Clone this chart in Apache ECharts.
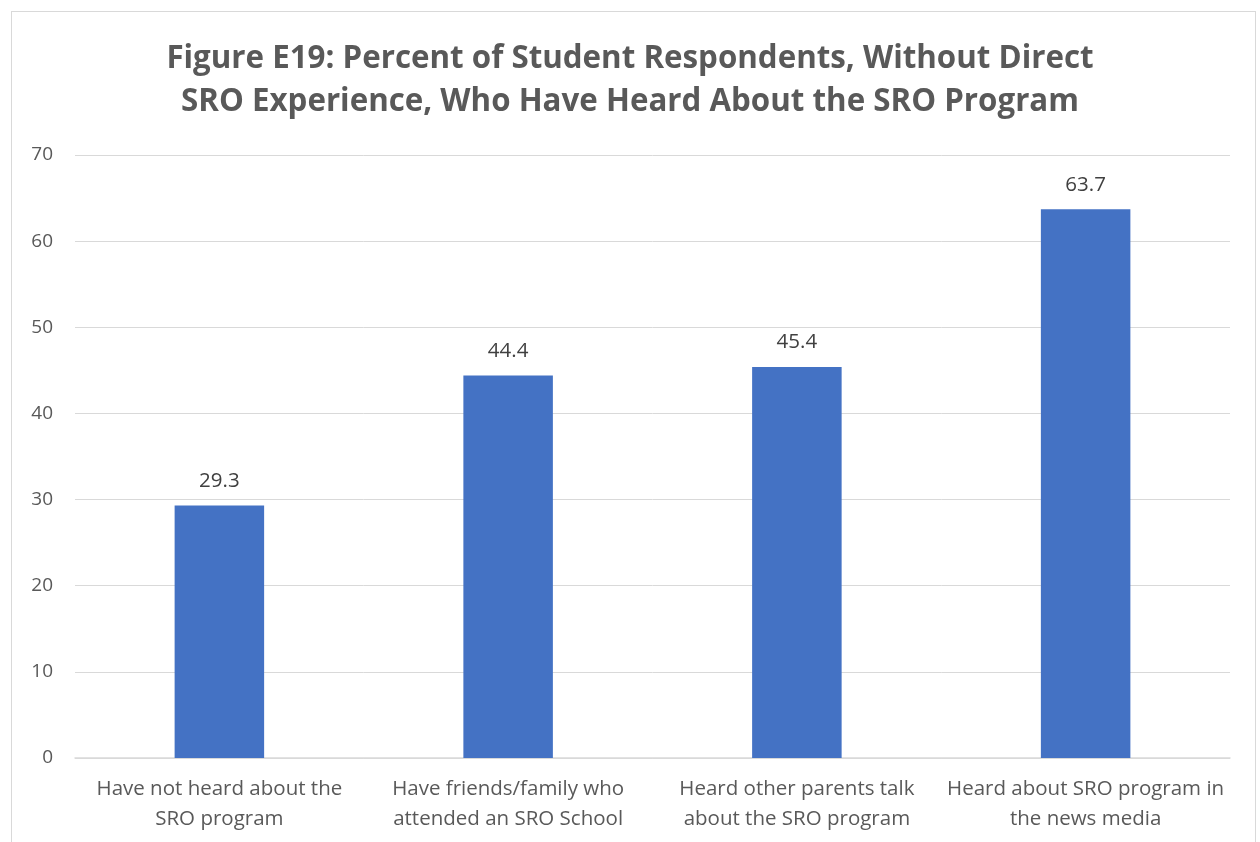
<!DOCTYPE html>
<html>
<head>
<meta charset="utf-8">
<script src="https://cdn.jsdelivr.net/npm/echarts@6/dist/echarts.min.js"></script>
<style>
html,body{margin:0;padding:0;background:#fff;}
#frame{position:absolute;left:11px;top:11px;width:1245px;height:900px;border:1px solid #d9d9d9;box-sizing:border-box;}
#chart{position:absolute;left:0;top:0;width:1260px;height:842px;}
</style>
</head>
<body>
<div id="frame"></div>
<div id="chart"></div>
<script>
const titleText = "Figure E19: Percent of Student Respondents, Without Direct\nSRO Experience, Who Have Heard About the SRO Program";
const categories = [
  "Have not heard about the\nSRO program",
  "Have friends/family who\nattended an SRO School",
  "Heard other parents talk\nabout the SRO program",
  "Heard about SRO program in\nthe news media"
];
const values = [29.3, 44.4, 45.4, 63.7];
const yTicks = {min: 0, max: 70, interval: 10};

const chart = echarts.init(document.getElementById('chart'), null, {renderer: 'canvas'});
chart.setOption({
  backgroundColor: 'transparent',
  animation: false,
  title: {
    text: titleText,
    left: 'center',
    top: 33,
    textStyle: {
      fontFamily: 'Open Sans, sans-serif',
      fontWeight: 'bold',
      fontSize: 31.3,
      lineHeight: 43,
      color: '#595959'
    }
  },
  grid: {left: 75, right: 30, top: 155, bottom: 84, containLabel: false},
  xAxis: {
    type: 'category',
    data: categories,
    axisLine: {lineStyle: {color: '#d9d9d9', width: 1.5}},
    axisTick: {show: false},
    axisLabel: {
      fontFamily: 'Open Sans, sans-serif',
      fontSize: 20.5,
      lineHeight: 30,
      color: '#595959',
      margin: 16,
      interval: 0
    }
  },
  yAxis: {
    type: 'value',
    min: yTicks.min,
    max: yTicks.max,
    interval: yTicks.interval,
    axisLine: {show: false},
    axisTick: {show: false},
    splitLine: {lineStyle: {color: '#d9d9d9', width: 1}},
    axisLabel: {
      fontFamily: 'Open Sans, sans-serif',
      fontSize: 19,
      color: '#595959',
      margin: 22
    }
  },
  series: [{
    type: 'bar',
    data: values,
    barWidth: '31%',
    itemStyle: {color: '#4472C4'},
    label: {
      show: true,
      position: 'top',
      distance: 14,
      fontFamily: 'Open Sans, sans-serif',
      fontSize: 20.5,
      color: '#404040',
      formatter: p => p.value.toFixed(1)
    }
  }]
});
</script>
</body>
</html>
